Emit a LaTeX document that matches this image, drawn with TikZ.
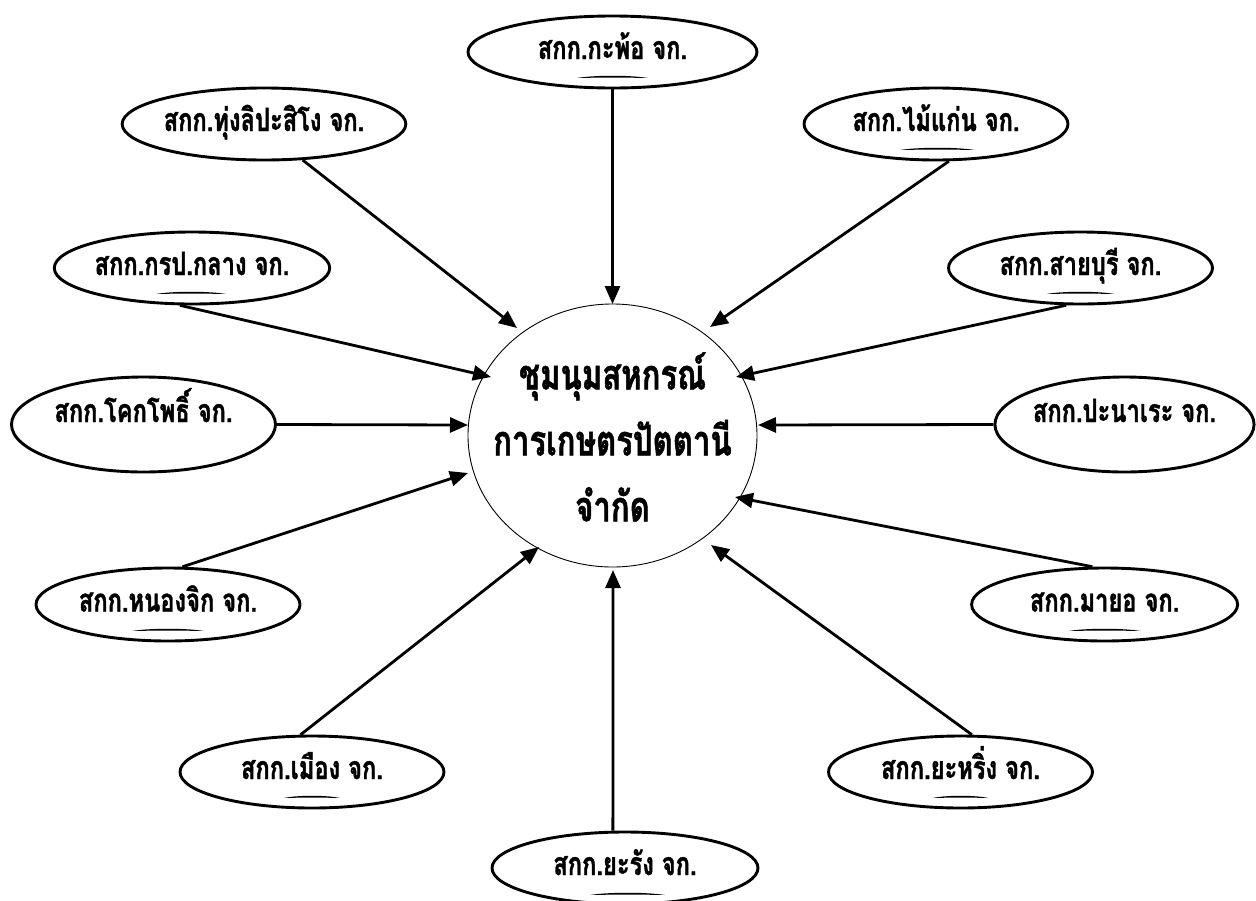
\documentclass[tikz,border=0pt]{standalone}
\usepackage{fontspec}
\newfontfamily\thaifont[Script=Thai,FakeStretch=0.74,BoldFeatures={FakeBold=1.2}]{Loma}
\usetikzlibrary{shapes.geometric,arrows.meta}
\newcommand\shademark[3]{\fill (#1-#3,#2) .. controls +(#3*0.5,-3) and +(-#3*0.5,-3) .. (#1+#3,#2) .. controls +(-#3*0.5,-0.5) and +(#3*0.5,-0.5) .. (#1-#3,#2);}
\tikzset{
  coop/.style={ellipse, draw, line width=2.9pt, minimum width=264pt, minimum height=72pt,
    inner sep=0pt, font=\thaifont\bfseries\fontsize{32}{38}\selectfont,
    text height=20pt, text depth=6pt},
  centre/.style={ellipse, draw, line width=0.9pt, minimum width=289pt, minimum height=263pt, inner sep=0pt},
  centretext/.style={align=center, inner sep=0pt, font=\thaifont\bfseries\fontsize{42}{66}\selectfont},
  feed/.style={line width=2.8pt, -{Triangle[length=18pt,width=15pt]}}
}
\begin{document}
\begin{tikzpicture}[x=1pt,y=-1pt]
\fill[white] (0,0) rectangle (1256,900);
\useasboundingbox (0,0) rectangle (1256,900);

\node[centre] (c) at (612.5,435.5) {};
\node[centretext] (ctext) at (612.5,437) {ชุมนุมสหกรณ์\\การเกษตรปัตตานี\\จำกัด};

\node[coop, minimum width=289pt] (n1) at (612.5,52) {สกก.กะพ้อ จก.};
\node[coop] (n2) at (264,124) {สกก.ทุ่งลิปะสิโง จก.};
\node[coop] (n3) at (936,124) {สกก.ไม้แก่น จก.};
\node[coop] (n4) at (192,268) {สกก.กรป.กลาง จก.};
\node[coop] (n5) at (1080.5,268) {สกก.สายบุรี จก.};
\node[coop, minimum height=95pt, text depth=25pt] (n6) at (143.5,424.5) {สกก.โคกโพธิ์ จก.};
\node[coop, minimum width=258pt, minimum height=95pt, text depth=25pt] (n7) at (1124.5,424.5) {สกก.ปะนาเระ จก.};
\node[coop, minimum height=73pt] (n8) at (168,604.5) {สกก.หนองจิก จก.};
\node[coop, minimum height=73pt, minimum width=266pt] (n9) at (1104.6,604.5) {สกก.มายอ จก.};
\node[coop] (n10) at (312,772) {สกก.เมือง จก.};
\node[coop] (n11) at (960.5,772) {สกก.ยะหริ่ง จก.};
\node[coop, minimum width=266pt] (n12) at (625,868) {สกก.ยะรัง จก.};

\coordinate (t1) at (612.5,304);
\coordinate (t2) at (517,328);
\coordinate (t3) at (710,327);
\coordinate (t4) at (491,377);
\coordinate (t5) at (736,377);
\coordinate (t6) at (468,425);
\coordinate (t7) at (758,425);
\coordinate (t8) at (468,473);
\coordinate (t9) at (735,497);
\coordinate (t10) at (539,547);
\coordinate (t11) at (711,545);
\coordinate (t12) at (613,570);

\draw[feed] (n1.south) -- (t1);
\draw[feed] (n2.-43) -- (t2);
\draw[feed] (n3.-71.6) -- (t3);
\draw[feed] (n4.-108.4) -- (t4);
\draw[feed] (n5.-111.3) -- (t5);
\draw[feed] (n6.east) -- (t6);
\draw[feed] (n7.west) -- (t7);
\draw[feed] (n8.69) -- (t8);
\draw[feed] (n9.108.2) -- (t9);
\draw[feed] (n10.107) -- (t10);
\draw[feed] (n11.73) -- (t11);
\draw[feed] (n12.108.4) -- (t12);

\shademark{612.5}{78}{35.5}
\shademark{937.5}{150}{37.5}
\shademark{191}{294}{35}
\shademark{1080.5}{294}{34}
\shademark{168}{631}{36}
\shademark{1104.6}{631}{36}
\shademark{312}{798}{28}
\shademark{960.5}{798}{28}
\shademark{627.5}{895}{37.5}
\end{tikzpicture}
\end{document}
